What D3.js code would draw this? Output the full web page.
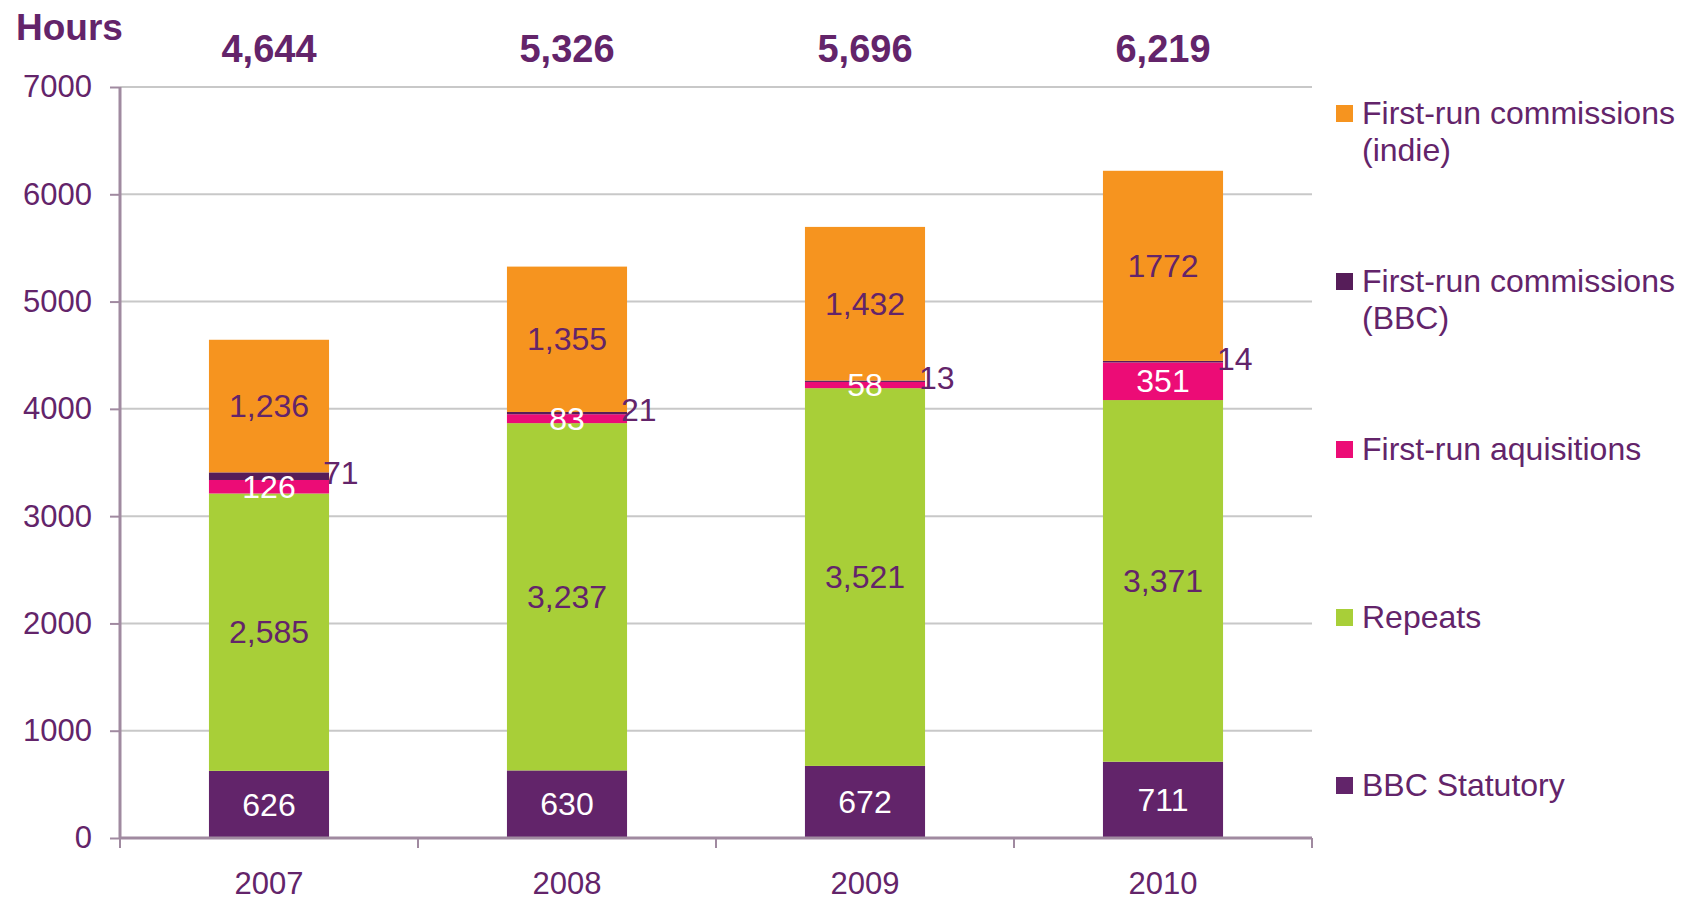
<!DOCTYPE html>
<html>
<head>
<meta charset="utf-8">
<script src="https://cdn.jsdelivr.net/npm/d3@7"></script>
<style>
  body { margin: 0; background: #fff; }
  text { font-family: "Liberation Sans", Arial, sans-serif; }
</style>
</head>
<body>
<div class="chart"></div>
<script>
// data ----------------------------------------
const years = ["2007", "2008", "2009", "2010"];
const bbcStatutory = [626, 630, 672, 711];
const repeats = [2585, 3237, 3521, 3371];
const acquisitions = [126, 83, 58, 351];
const commBBC = [71, 21, 13, 14];
const commIndie = [1236, 1355, 1432, 1772];
const yTicks = [0, 1000, 2000, 3000, 4000, 5000, 6000, 7000];

const purple = "#63246a";

// stack order, bottom first
const series = [
  {name: ["BBC Statutory"], values: bbcStatutory, color: "#62246a", label: "#fff", pos: "mid"},
  {name: ["Repeats"], values: repeats, color: "#a8cf38", label: purple, pos: "mid"},
  {name: ["First-run aquisitions"], values: acquisitions, color: "#ec0c76", label: "#fff", pos: "mid"},
  {name: ["First-run commissions", "(BBC)"], values: commBBC, color: "#561d59", label: purple, pos: "right"},
  {name: ["First-run commissions", "(indie)"], values: commIndie, color: "#f6941f", label: purple, pos: "mid"}
];

const width = 1684, height = 900;
const margin = {top: 87, left: 120, right: 372, bottom: 62};
const plotW = width - margin.left - margin.right;
const plotH = height - margin.top - margin.bottom;

const svg = d3.select(".chart").append("svg")
  .attr("width", width).attr("height", height);
const g = svg.append("g").attr("transform", `translate(${margin.left},${margin.top})`);

const xScale = d3.scaleBand().domain(years).range([0, plotW]).paddingInner(0.597).paddingOuter(0.2985);
const yScale = d3.scaleLinear().domain([0, 7000]).range([plotH, 0]);

// gridlines
g.append("g").selectAll("line").data(yTicks.filter(d => d > 0)).enter().append("line")
  .attr("x1", 0).attr("x2", plotW)
  .attr("y1", d => yScale(d)).attr("y2", d => yScale(d))
  .attr("stroke", "#c8c8c8").attr("stroke-width", 2);

// stacked bars
const rows = years.map((y, i) => {
  const r = {year: y};
  series.forEach((s, k) => r["s" + k] = s.values[i]);
  return r;
});
const stack = d3.stack().keys(series.map((s, k) => "s" + k))(rows);

stack.forEach((layer, k) => {
  const s = series[k];
  g.append("g").selectAll("rect").data(layer).enter().append("rect")
    .attr("x", d => xScale(d.data.year))
    .attr("y", d => yScale(d[1]))
    .attr("width", xScale.bandwidth())
    .attr("height", d => yScale(d[0]) - yScale(d[1]))
    .attr("fill", s.color);
});

const fmt = d3.format(",");
stack.forEach((layer, k) => {
  const s = series[k];
  g.append("g").selectAll("text").data(layer).enter().append("text")
    .attr("x", d => s.pos === "right" ? xScale(d.data.year) + xScale.bandwidth() - 6 : xScale(d.data.year) + xScale.bandwidth() / 2)
    .attr("y", d => yScale((d[0] + d[1]) / 2) + (s.pos === "right" ? -3 : 0))
    .attr("dy", "0.35em")
    .attr("text-anchor", s.pos === "right" ? "start" : "middle")
    .attr("fill", s.label)
    .style("font-size", "32px")
    .text(d => {
      const v = d[1] - d[0];
      return (k === 4 && d.data.year === "2010") ? String(v) : fmt(v);
    });
});

// totals
g.append("g").selectAll("text").data(rows).enter().append("text")
  .attr("x", d => xScale(d.year) + xScale.bandwidth() / 2)
  .attr("y", -25)
  .attr("text-anchor", "middle")
  .attr("fill", purple)
  .style("font-size", "38px").style("font-weight", "bold")
  .text(d => fmt(d3.sum(series, (s, k) => d["s" + k])));

// y axis
const yAxis = d3.axisLeft(yScale).tickValues(yTicks).tickSize(10).tickPadding(18).tickFormat(d3.format("d"));
const ya = g.append("g").attr("class", "axis y-axis").call(yAxis);
ya.select(".domain").remove();
ya.selectAll("line").attr("stroke", "#a08aa0").attr("stroke-width", 2);
ya.selectAll("text").attr("fill", purple).style("font-size", "31px");
g.append("line").attr("x1", 0).attr("x2", 0).attr("y1", 0).attr("y2", plotH)
  .attr("stroke", "#a08aa0").attr("stroke-width", 3);

// x axis
const xAxis = d3.axisBottom(xScale).tickSize(0).tickPadding(34);
const xa = g.append("g").attr("class", "axis x-axis").attr("transform", `translate(0,${plotH})`).call(xAxis);
xa.select(".domain").remove();
xa.selectAll("text").attr("fill", purple).style("font-size", "31px");
g.append("line").attr("x1", 0).attr("x2", plotW).attr("y1", plotH).attr("y2", plotH)
  .attr("stroke", "#a08aa0").attr("stroke-width", 3);
const bounds = d3.range(years.length + 1).map(i => i * xScale.step());
g.append("g").selectAll("line").data(bounds).enter().append("line")
  .attr("x1", d => d).attr("x2", d => d)
  .attr("y1", plotH).attr("y2", plotH + 10)
  .attr("stroke", "#a08aa0").attr("stroke-width", 2);

// axis title
svg.append("text").attr("x", 16).attr("y", 40)
  .attr("fill", purple).style("font-size", "37px").style("font-weight", "bold")
  .text("Hours");

// legend (top = last series)
const legend = svg.append("g").attr("transform", "translate(1336,0)");
series.slice().reverse().forEach((s, i) => {
  const base = 124 + i * 168;
  const item = legend.append("g");
  item.append("rect").attr("x", 0).attr("y", base - 19).attr("width", 17).attr("height", 17).attr("fill", s.color);
  s.name.forEach((line, j) => {
    item.append("text").attr("x", 26).attr("y", base + j * 37)
      .attr("fill", purple).style("font-size", "32px").text(line);
  });
});
</script>
</body>
</html>
